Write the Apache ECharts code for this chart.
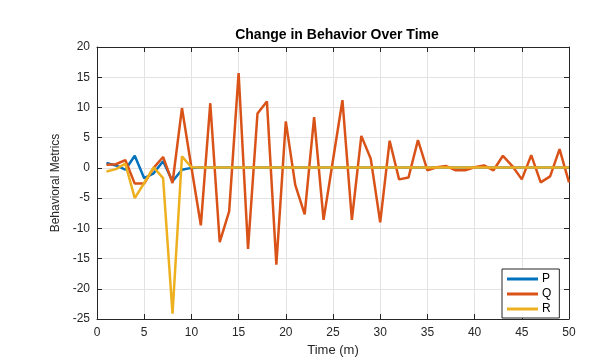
<!DOCTYPE html>
<html>
<head>
    <meta charset="utf-8">
    <title>Change in Behavior Over Time</title>
    <script src="https://cdn.jsdelivr.net/npm/echarts@6/dist/echarts.min.js"></script>
    <style>
        html, body {margin: 0; padding: 0; background: #fff;}
        #main {width: 610px; height: 362px;}
    </style>
</head>
<body>
<div id="main"></div>
<script type="text/javascript">
    // time steps (m)
    var time = [1, 2, 3, 4, 5, 6, 7, 8, 9, 10,
        11, 12, 13, 14, 15, 16, 17, 18, 19, 20,
        21, 22, 23, 24, 25, 26, 27, 28, 29, 30,
        31, 32, 33, 34, 35, 36, 37, 38, 39, 40,
        41, 42, 43, 44, 45, 46, 47, 48, 49, 50];

    var P = [0.8, 0.4, -0.3, 2.0, -1.7, -0.9, 1.1, -2.2, -0.3, 0.0,
        0.05, 0.05, 0.05, 0.05, 0.05, 0.05, 0.05, 0.05, 0.05, 0.05,
        0.05, 0.05, 0.05, 0.05, 0.05, 0.05, 0.05, 0.05, 0.05, 0.05,
        0.05, 0.05, 0.05, 0.05, 0.05, 0.05, 0.05, 0.05, 0.05, 0.05,
        0.05, 0.05, 0.05, 0.05, 0.05, 0.05, 0.05, 0.05, 0.05, 0.05];

    var Q = [0.5, 0.6, 1.3, -2.6, -2.6, 0.0, 1.8, -2.5, 9.9, 0.1,
        -9.5, 10.7, -12.3, -7.2, 15.7, -13.4, 9.0, 11.0, -16.0, 7.7,
        -2.8, -7.7, 8.4, -8.6, 1.3, 11.2, -8.6, 5.3, 1.5, -9.0,
        4.5, -1.9, -1.6, 4.6, -0.4, 0.1, 0.3, -0.4, -0.4, 0.1,
        0.4, -0.4, 2.0, 0.3, -1.9, 2.1, -2.4, -1.4, 3.1, -2.4];

    var R = [-0.6, -0.2, 0.7, -5.0, -2.5, 0.1, -1.7, -24.1, 1.9, 0.1,
        0.05, 0.05, 0.05, 0.05, 0.05, 0.05, 0.05, 0.05, 0.05, 0.05,
        0.05, 0.05, 0.05, 0.05, 0.05, 0.05, 0.05, 0.05, 0.05, 0.05,
        0.05, 0.05, 0.05, 0.05, 0.05, 0.05, 0.05, 0.05, 0.05, 0.05,
        0.05, 0.05, 0.05, 0.05, 0.05, 0.05, 0.05, 0.05, 0.05, 0.05];

    var seriesNames = ['P', 'Q', 'R'];
    var seriesColors = ['#0072BD', '#D95319', '#EDB120'];

    function pairs(vals) {
        return time.map(function (t, i) { return [t, vals[i]]; });
    }

    var font = "'Liberation Sans', Arial, Helvetica, sans-serif";
    var axisColor = '#262626';
    var gridColor = '#e3e3e3';

    var chart = echarts.init(document.getElementById('main'), null, {renderer: 'canvas'});

    var baseX = {
        type: 'value', min: 0, max: 50, interval: 5,
        axisLine: {show: true, onZero: false, lineStyle: {color: axisColor, width: 1}},
        axisTick: {show: true, inside: true, length: 5, lineStyle: {color: axisColor}},
        splitLine: {show: false}
    };
    var baseY = {
        type: 'value', min: -25, max: 20, interval: 5,
        axisLine: {show: true, onZero: false, lineStyle: {color: axisColor, width: 1}},
        axisTick: {show: true, inside: true, length: 5, lineStyle: {color: axisColor}},
        splitLine: {show: false}
    };

    var option = {
        animation: false,
        backgroundColor: '#fff',
        textStyle: {fontFamily: font},
        title: {
            text: 'Change in Behavior Over Time',
            left: 332, top: 23, textAlign: 'center',
            textStyle: {fontFamily: font, fontSize: 14, fontWeight: 'bold', color: '#000'}
        },
        legend: {
            orient: 'vertical',
            left: 502, top: 269,
            data: seriesNames,
            icon: 'rect',
            itemWidth: 31, itemHeight: 3, itemGap: 3,
            padding: [4, 8, 3, 5],
            borderColor: axisColor, borderWidth: 1,
            backgroundColor: '#fff',
            textStyle: {fontFamily: font, fontSize: 12, color: '#000', padding: [0, 0, 0, -1]}
        },
        grid: {left: 97, right: 41, top: 47, bottom: 42, containLabel: false},
        xAxis: [
            Object.assign({}, baseX, {
                position: 'bottom',
                name: 'Time (m)', nameLocation: 'middle', nameGap: 25,
                nameTextStyle: {fontFamily: font, fontSize: 13, color: '#262626'},
                axisLabel: {margin: 8, fontFamily: font, fontSize: 12, color: '#262626'},
                splitLine: {show: true, lineStyle: {color: gridColor, width: 1}}
            }),
            Object.assign({}, baseX, {position: 'top', axisLabel: {show: false}})
        ],
        yAxis: [
            Object.assign({}, baseY, {
                position: 'left',
                name: 'Behavioral Metrics', nameLocation: 'middle', nameGap: 28,
                nameTextStyle: {fontFamily: font, fontSize: 12, color: '#262626'},
                axisLabel: {margin: 7, fontFamily: font, fontSize: 12, color: '#262626'},
                splitLine: {show: true, lineStyle: {color: gridColor, width: 1}}
            }),
            Object.assign({}, baseY, {position: 'right', axisLabel: {show: false}})
        ],
        series: seriesNames.map(function (name, k) {
            return {
                name: name,
                type: 'line',
                data: pairs([P, Q, R][k]),
                symbol: 'none',
                color: seriesColors[k],
                lineStyle: {width: 2.5, color: seriesColors[k]},
                z: 2 + k
            };
        })
    };

    chart.setOption(option);
</script>
</body>
</html>
